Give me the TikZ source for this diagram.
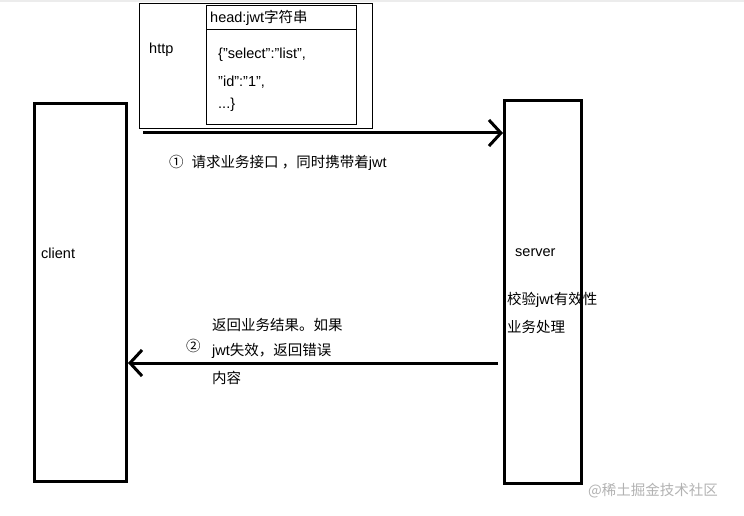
\documentclass[tikz,border=0pt]{standalone}
\usepackage{fontspec}
\setmainfont{Liberation Sans}
\newfontfamily\cjk{Noto Sans CJK SC}
\usetikzlibrary{arrows.meta}
\begin{document}
\begin{tikzpicture}[x=1pt,y=-1pt,
  box/.style={draw,line width=3pt},
  thin/.style={draw,line width=0.8pt},
  txt/.style={anchor=west,inner sep=0pt,font=\fontsize{14.5}{16}\selectfont},
  arr/.style={line width=3pt,-{Straight Barb[length=12pt,width=26pt,line width=3pt]}}]
\useasboundingbox (0,0) rectangle (744,516);
\fill[gray!15] (0,0) rectangle (744,2);
\draw[thin] (139,3) rectangle (372,128);
\draw[thin] (206,5) rectangle (356,124);
\draw[thin] (206,29) -- (356,29);
\node[box,minimum width=92pt,minimum height=378pt,anchor=north west] (client) at (33,102) {};
\node[box,minimum width=77pt,minimum height=383pt,anchor=north west] (server) at (503,99) {};
\coordinate (a1) at (143,133);
\draw[arr] (a1) -- (server.west |- a1);
\coordinate (a2) at (498,363);
\draw[arr] (a2) -- (client.east |- a2);
\node[txt] (http) at (149,50) {http};
\node[txt] (head) at (210,18) {head:jwt{\cjk 字符串}};
\node[txt] (j1) at (218,55) {\{"select":"list",};
\node[txt] (j2) at (218,82) {"id":"1",};
\node[txt] (j3) at (218,105) {...\}};
\node[txt] (n1) at (169,163) {{\cjk ①}\hspace{8pt}{\cjk 请求业务接口 ，同时携带着}jwt};
\node[txt] (cl) at (41,253) {client};
\node[txt] (sv) at (515,253) {server};
\node[txt] (s1) at (507,300) {{\cjk 校验}jwt{\cjk 有效性}};
\node[txt] (s2) at (507,327) {{\cjk 业务处理}};
\node[txt] (n2) at (186,346) {{\cjk ②}};
\node[txt] (r1) at (212,325) {{\cjk 返回业务结果。如果}};
\node[txt] (r2) at (212,351) {jwt{\cjk 失效，返回错误}};
\node[txt] (r3) at (212,378) {{\cjk 内容}};
\node[txt,text=gray!60] (wm) at (588,491) {{\cjk @稀土掘金技术社区}};
\end{tikzpicture}
\end{document}
